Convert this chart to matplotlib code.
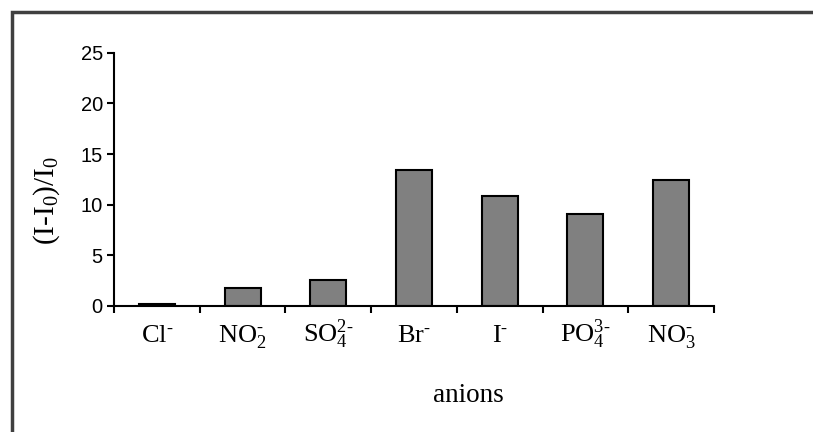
import matplotlib.pyplot as plt
import numpy as np
from matplotlib.patches import Rectangle

plt.rcParams['mathtext.fontset'] = 'custom'
plt.rcParams['mathtext.rm'] = 'Liberation Serif'
plt.rcParams['mathtext.it'] = 'Liberation Serif'
plt.rcParams['mathtext.default'] = 'rm'

anions = [r'Cl$^{\text{-}}$', r'NO$_2^{\text{-}}$', r'SO$_4^{2\text{-}}$', r'Br$^{\text{-}}$',
          r'I$^{\text{-}}$', r'PO$_4^{3\text{-}}$', r'NO$_3^{\text{-}}$']
response = [0.2, 1.8, 2.6, 13.4, 10.85, 9.1, 12.4]
yticks = [0, 5, 10, 15, 20, 25]

fig = plt.figure(figsize=(8.13, 4.32), dpi=100)
ax = fig.add_axes([0.1402, 0.2917, 0.738, 0.5863])

x = np.arange(len(anions))
ax.bar(x, response, width=0.42, color='#808080', edgecolor='black', linewidth=1.5)

ax.set_xlim(-0.5, len(anions) - 0.5)
ax.set_ylim(0, 25)
ax.set_yticks(yticks)
ax.tick_params(axis='y', direction='out', length=5, width=1.5, labelsize=14.5, pad=3)
for lbl in ax.get_yticklabels():
    lbl.set_fontfamily('Liberation Sans')

ax.set_xticks(x)
ax.set_xticklabels(anions, fontfamily='Liberation Serif', fontsize=19)
# line the formulas up on a common baseline
for lbl in ax.get_xticklabels():
    lbl.set_verticalalignment('baseline')
ax.tick_params(axis='x', which='major', length=0, pad=26)
ax.set_xticks(np.arange(len(anions) + 1) - 0.5, minor=True)
ax.tick_params(axis='x', which='minor', direction='out', length=5, width=1.5)

for side in ('top', 'right'):
    ax.spines[side].set_visible(False)
for side in ('left', 'bottom'):
    ax.spines[side].set_linewidth(1.5)

fig.text(0.058, 0.537, r'(I-I$_0$)/I$_0$', rotation=90, ha='center', va='center',
         fontfamily='Liberation Serif', fontsize=21)
fig.text(0.576, 0.085, 'anions', ha='center', va='center',
         fontfamily='Liberation Serif', fontsize=19.5)

# outer frame, open to the right and bottom
fig.patches.append(Rectangle((12 / 813, -0.1), 1.2, 1 - 12 / 432 + 0.1,
                             transform=fig.transFigure, fill=False,
                             edgecolor='#404040', linewidth=2.5))

fig.savefig('out.png', dpi=100)
